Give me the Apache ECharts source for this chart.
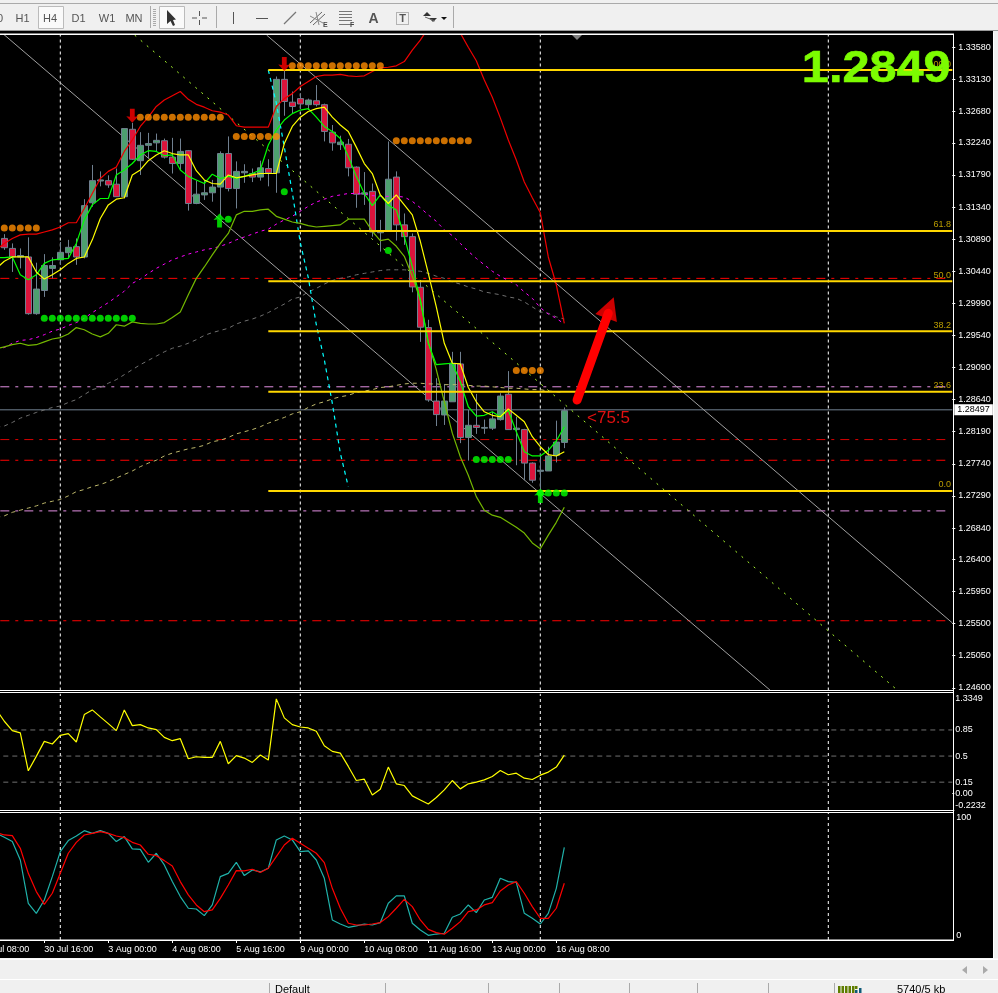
<!DOCTYPE html>
<html><head><meta charset="utf-8"><style>html,body{margin:0;padding:0;background:#000;overflow:hidden}#c{width:998px;height:993px}</style>
<script src="https://cdn.jsdelivr.net/npm/echarts@6/dist/echarts.min.js"></script></head><body><div id="c"></div>
<script>
// candle data, bars 0..70
const open=[1.3090,1.3076,1.3064,1.3064,1.29845,1.3017,1.3048,1.3060,1.3070,1.30785,
1.3064,1.3140,1.31705,1.3171,1.3166,1.31485,1.3243,1.3199,1.32205,1.3224,
1.3227,1.3204,1.3195,1.3213,1.3139,1.3151,1.3154,1.3162,1.3209,1.3160,
1.3182,1.3181,1.3176,1.3188,1.3182,1.3313,1.3281,1.3286,1.32775,1.3283,
1.32775,1.3239,1.32215,1.3222,1.3190,1.3152,1.3156,1.3098,1.3101,1.3176,
1.3109,1.30925,1.30215,1.2965,1.2862,1.28425,1.2861,1.2914,1.2811,1.2828,
1.2824,1.2824,1.2836,1.28715,1.2822,1.2822,1.2775,1.27635,1.2764,1.2786,1.2804];
const close=[1.3077,1.3064,1.3066,1.29845,1.3019,1.3052,1.3052,1.30705,1.30775,1.3064,
1.3136,1.3171,1.3172,1.3165,1.31485,1.3244,1.3201,1.32205,1.3223,1.32275,
1.3204,1.3195,1.3212,1.3139,1.3152,1.3154,1.3162,1.3209,1.3160,1.3184,
1.3184,1.3176,1.3189,1.3182,1.3313,1.3282,1.3275,1.32785,1.3284,1.32775,
1.3240,1.3224,1.3225,1.3189,1.3152,1.3154,1.3099,1.3100,1.3173,1.3109,
1.30925,1.3022,1.29655,1.28635,1.2843,1.2862,1.2915,1.2811,1.2828,1.2825,
1.2825,1.2837,1.2869,1.2822,1.2824,1.2775,1.2751,1.2765,1.2785,1.28045,1.28485];
const high=[1.3096,1.3083,1.3076,1.30915,1.3056,1.3068,1.30635,1.3085,1.3088,1.3090,
1.3145,1.3193,1.3184,1.31785,1.3188,1.3244,1.3252,1.3239,1.3238,1.3237,
1.3230,1.3231,1.3230,1.3214,1.3171,1.3172,1.3172,1.3212,1.3233,1.3198,
1.3194,1.3188,1.3199,1.3201,1.3317,1.3326,1.3296,1.3293,1.3286,1.3305,
1.3279,1.3249,1.3234,1.32295,1.3191,1.3183,1.3167,1.3116,1.3226,1.3184,
1.3125,1.3097,1.3029,1.2976,1.2894,1.2886,1.2931,1.2931,1.28495,1.2872,
1.2836,1.2847,1.2873,1.2904,1.2840,1.2823,1.2776,1.2788,1.2798,1.28345,1.2853];
const low=[1.3074,1.3043,1.3048,1.2983,1.2983,1.3008,1.3034,1.3053,1.3062,1.3053,
1.3062,1.31345,1.3163,1.3161,1.31485,1.3146,1.3200,1.3179,1.3202,1.3212,
1.3202,1.3181,1.3186,1.3129,1.3138,1.3144,1.31415,1.31205,1.3156,1.3132,
1.3168,1.3169,1.3171,1.3163,1.3154,1.3262,1.3265,1.32715,1.3270,1.3275,
1.3226,1.3213,1.3214,1.3177,1.3133,1.3137,1.30925,1.30715,1.3101,1.3087,
1.3081,1.30145,1.2945,1.2861,1.2827,1.28285,1.2861,1.2803,1.27785,1.2816,
1.2816,1.28215,1.28345,1.28215,1.2772,1.2751,1.27475,1.2723,1.2764,1.2776,1.2796];
// overlay lines, bars -1..70
const lineYellow=[1.3048,1.3058,1.3064,1.3064,1.3064,1.3043,1.3033,1.3039,1.3046,1.3055,1.3062,1.3064,1.3088,1.3118,1.3137,1.3145,1.3147,1.3179,1.3186,1.3199,1.3207,1.3213,1.3209,1.3207,1.3207,1.3185,1.3172,1.3167,1.3166,1.3179,1.3175,1.3177,1.3179,1.3181,1.3181,1.3181,1.3223,1.3247,1.3260,1.3268,1.3272,1.3274,
1.3260,1.3249,1.3240,1.3218,1.3195,1.3181,1.3151,1.3139,1.3151,1.3137,1.3123,1.3086,1.3041,1.2994,1.2943,1.2915,1.2914,1.2881,1.2861,1.2847,1.2842,1.2840,1.2851,1.2842,1.2833,1.2812,1.2798,1.2787,1.2785,1.2791];
const lineGreen=[1.3063,1.3063,1.3064,1.3039,1.3032,1.3039,1.3055,1.3060,1.3061,1.3062,1.3083,1.3116,1.3137,1.3146,1.3146,1.3179,1.3186,1.3195,1.3207,1.3213,1.3212,1.3206,1.3207,1.3186,1.3177,1.3172,1.3167,1.3180,1.3174,1.3177,1.3174,1.3177,1.3181,1.3186,1.3221,1.3242,1.3256,1.3265,1.3270,1.3272,1.3260,1.3247,
1.3240,1.3230,1.3205,1.3177,1.3153,1.3136,1.3151,1.3137,1.3130,1.3093,1.3050,1.3004,1.2943,1.2913,1.2914,1.2915,1.2889,1.2854,1.2841,1.2842,1.2847,1.2840,1.2849,1.2819,1.2791,1.2785,1.2785,1.2793,1.2806,1.2826];
const lineRed=[1.3074,1.3083,1.3090,1.3095,1.3096,1.3096,1.3099,1.3102,1.3106,1.3112,1.3112,1.3132,1.3153,1.3174,1.3184,1.3190,1.3212,1.3228,1.3247,1.3260,1.3275,1.3284,1.3290,1.3296,1.3285,1.3278,1.3274,1.3269,1.3267,1.3263,1.3248,1.3246,1.3246,1.3246,1.3246,1.3275,1.3286,1.3293,1.3303,1.3310,1.3317,1.3319,
1.3319,1.3320,1.3318,1.3317,1.3318,1.3324,1.3329,1.3330,1.3332,1.3338,1.3354,1.3368,1.3385,1.3403,1.3417,1.3410,1.3378,1.3358,1.3339,1.3312,1.3288,1.3259,1.3228,1.3200,1.3169,1.3147,1.3126,1.3064,1.3025,1.2971];
const lineOlive=[1.2935,1.2938,1.2941,1.2943,1.2940,1.2941,1.2945,1.2949,1.2951,1.2956,1.2965,1.2962,1.2956,1.2952,1.2957,1.2969,1.2967,1.2973,1.2971,1.2970,1.2970,1.2972,1.2979,1.2987,1.3011,1.3034,1.3050,1.3067,1.3083,1.3097,1.3123,1.3128,1.3128,1.3130,1.3131,1.3121,1.3117,1.3113,1.3111,1.3108,1.3106,1.3107,
1.3108,1.3109,1.3117,1.3117,1.3117,1.3100,1.3087,1.3089,1.3079,1.3065,1.3037,1.3004,1.2945,1.2906,1.2861,1.2817,1.2784,1.2758,1.2728,1.2709,1.2702,1.2699,1.2692,1.2685,1.2677,1.2663,1.2655,1.2674,1.2692,1.2713];
const lineMagenta=[1.2935,1.2937,1.2943,1.2947,1.2948,1.2951,1.2955,1.2960,1.2963,1.2968,1.2972,1.2978,1.2986,1.2993,1.3000,1.3008,1.3016,1.3027,1.3033,1.3041,1.3048,1.3054,1.3060,1.3064,1.3068,1.3071,1.3074,1.3076,1.3079,1.3083,1.3088,1.3092,1.3096,1.3100,1.3103,1.3110,1.3116,1.3121,1.3128,1.3135,1.3141,1.3145,
1.3149,1.3151,1.3153,1.3153,1.3152,1.3150,1.3149,1.3149,1.3149,1.3148,1.3142,1.3133,1.3123,1.3114,1.3102,1.3094,1.3083,1.3072,1.3062,1.3053,1.3044,1.3037,1.3031,1.3025,1.3015,1.3006,1.2993,1.2984,1.2978,1.2970];
const lineGray=[1.2825,1.2827,1.2832,1.2838,1.2842,1.2846,1.28495,1.2853,1.2855,1.2860,1.2864,1.2871,1.2878,1.2881,1.2887,1.2892,1.2899,1.2906,1.2913,1.2919,1.2925,1.2931,1.2936,1.2939,1.2943,1.2948,1.2954,1.2958,1.2961,1.2964,1.2970,1.2974,1.2977,1.2981,1.2986,1.2992,1.2998,1.3005,1.3008,1.3015,1.3020,1.3026,
1.3031,1.3034,1.3036,1.3039,1.3041,1.3043,1.3045,1.3046,1.3046,1.3046,1.3045,1.3044,1.3041,1.3037,1.3034,1.3029,1.3026,1.3022,1.3019,1.3015,1.3013,1.3011,1.3008,1.3006,1.3001,1.2994,1.2987,1.2985,1.2980,1.2977];
const lineKhaki=[1.26985,1.2701,1.2706,1.2709,1.2712,1.2715,1.2719,1.27215,1.2724,1.2729,1.2735,1.2738,1.2742,1.2745,1.2749,1.2754,1.2759,1.2764,1.2770,1.2775,1.2779,1.2785,1.2789,1.2792,1.2795,1.2797,1.2800,1.2805,1.2807,1.2811,1.2816,1.2819,1.2822,1.2826,1.2831,1.2835,1.2839,1.2844,1.2847,
1.2853,1.2858,1.2861,1.2865,1.2868,1.2870,1.2874,1.2876,1.2878,1.2881,1.2882,1.2884,1.2886,1.2887,1.2887,1.2886,1.2886,1.2885,1.2885,1.2885,1.2884,1.2883,1.2883,1.2882,1.2881,1.2880,1.2880,1.2879,1.2878,1.2878,1.2876,1.2875,1.2874];
// cyan line, bars 33..43
const lineCyan=[1.3326,1.3280,1.3218,1.3154,1.3084,1.3035,1.2969,1.2920,1.2859,1.2789,1.2742];
// horizontal levels
const fibLevels=[1.3326,1.31004,1.3030,1.2960,1.2875,1.2736];
const fibNames=['100.0','61.8','50.0','38.2','23.6','0.0'];
const redLevels=[1.3034,1.2808,1.2779,1.2554];
const lavenderLevels=[1.2882,1.2708];
const lastPrice=1.28497;
// channel lines [bar, price, bar, price]
const channelUpper=[32.8,1.3375,118.5,1.2551];
const channelLower=[-1,1.3385,96,1.2454];
const channelMid=[16.3,1.3375,111.6,1.2457];
const bigArrow=[71.6,1.28635,75.5,1.2985];
const bigArrowHead=[75.7,1.2993];
const verticalBars=[7,37,67,103];
// dot rows: [first bar, last bar, price]
const orangeRows=[[0,4,1.31046],[17,27,1.3260],[29,34,1.3233],[36,47,1.3332],[49,58,1.3227],[64,67,1.2905]];
const greenRows=[[5,16,1.2978],[35,35,1.31556],[48,48,1.3073],[28,28,1.3117],[59,63,1.2780],[67,70,1.2733]];
const arrowsDown=[[16,1.3262],[35,1.33346]];
const arrowsUp=[[26.9,1.3115],[67,1.2729]];
// RVI-style oscillator, bars -1..70
const oscYellow=[1.124,0.967,0.841,0.810,0.303,0.496,0.697,0.662,0.778,0.801,0.689,1.056,1.119,1.025,0.935,0.841,1.119,0.908,0.922,0.877,0.855,0.751,0.706,0.733,0.464,0.491,0.482,0.482,0.697,0.397,0.505,0.473,0.415,0.514,0.446,1.267,1.012,0.922,0.890,0.877,0.832,0.639,0.563,0.540,0.361,0.172,0.190,-0.021,0.056,0.352,0.128,0.105,-0.034,-0.088,-0.142,-0.056,0.047,0.172,0.060,0.128,0.150,0.181,0.226,0.307,0.249,0.271,0.204,0.186,0.244,0.285,0.352,0.513];
const oscLevels=[0.85,0.5,0.15];
const oscTicks=[-0.2232,0,0.15,0.5,0.85,1.3349];
// stochastic, bars -1..70
const stochMain=[84.0,80.9,77.5,63.0,28.9,21.0,31.5,49.9,69.6,78.3,81.9,86.1,84.0,86.1,84.0,77.5,81.4,71.7,71.4,61.2,68.3,59.1,46.0,34.2,25.0,24.4,19.2,27.6,49.9,52.5,61.2,50.7,55.2,53.6,56.5,78.8,81.9,78.8,69.6,70.1,63.0,48.6,15.8,12.6,10.0,11.1,12.6,11.8,13.7,28.9,34.7,34.7,13.2,7.9,3.7,4.7,5.3,17.9,20.5,27.6,21.6,31.5,33.6,48.6,46.0,45.4,21.0,17.1,12.6,21.0,40.7,73.0];
const stochSignal=[84.6,82.7,82.2,72.2,52.5,38.1,28.1,36.8,52.5,68.3,76.9,82.7,84.0,85.3,84.0,81.9,80.6,76.9,74.8,67.5,66.4,62.5,58.3,46.0,35.5,27.6,22.3,23.7,32.8,43.3,54.6,54.4,55.7,53.1,56.5,65.7,74.8,80.1,76.2,72.2,68.3,60.9,40.7,25.0,13.2,11.8,11.8,12.6,13.7,18.4,25.0,32.0,26.3,15.8,8.4,5.8,4.5,9.2,14.5,22.3,23.7,27.6,29.4,38.6,43.3,46.0,36.8,26.3,17.1,17.1,25.0,44.7];
// axes
const priceTicks=[1.3358,1.3313,1.3268,1.3224,1.3179,1.3134,1.3089,1.3044,1.2999,1.2954,1.2909,1.2864,1.2819,1.2774,1.2729,1.2684,1.2640,1.2595,1.2550,1.2505,1.2460];
const dateLabels=['29 Jul 08:00','30 Jul 16:00','3 Aug 00:00','4 Aug 08:00','5 Aug 16:00','9 Aug 00:00','10 Aug 08:00','11 Aug 16:00','13 Aug 00:00','16 Aug 08:00'];
const toolbarLabels=['0','H1','H4','D1','W1','MN'];
const statusLabels=['Default','5740/5 kb'];

const SLOTS=122, FIRST=-3;
const cats=Array.from({length:SLOTS},(_,i)=>(i%8===0&&dateLabels[i/8])||'');
const pad=(a,n)=>Array(n).fill(null).concat(a);
const kline=open.map((o,i)=>[o,close[i],low[i],high[i]]);
const FONT='"Liberation Sans",Arial,sans-serif';
const grids=[{left:-23.7,top:34.5,width:976,height:656,outerBoundsMode:'none'},{left:-23.7,top:693.8,width:976,height:116.2,outerBoundsMode:'none'},{left:-23.7,top:813,width:976,height:127,outerBoundsMode:'none'}];
const xAxis=[],yAxis=[];
grids.forEach((g,i)=>{
  xAxis.push({type:'category',gridIndex:i,data:cats,boundaryGap:true,axisLine:{show:false,onZero:false},splitLine:{show:false},
    axisTick:{show:i===2,interval:(idx,v)=>v!=='',alignWithLabel:true,length:3,lineStyle:{color:'#fff'}},
    axisLabel:{show:i===2,interval:(idx,v)=>v!=='',align:'left',margin:5,color:'#fff',fontSize:9,fontFamily:FONT,hideOverlap:false}});
  xAxis.push({type:'value',gridIndex:i,min:FIRST-0.5,max:FIRST-0.5+SLOTS,show:false,axisLine:{onZero:false},splitLine:{show:false}});
});
const axLab={color:'#fff',fontSize:9,fontFamily:FONT};
yAxis.push({type:'value',gridIndex:0,position:'right',min:1.24562,max:1.33759,scale:true,splitLine:{show:false},axisLine:{show:false,onZero:false},
  axisTick:{show:true,length:3,lineStyle:{color:'#fff'},customValues:priceTicks},
  axisLabel:{...axLab,margin:6,customValues:priceTicks,formatter:v=>v.toFixed(5)}});
yAxis.push({type:'value',gridIndex:1,position:'right',min:-0.2232,max:1.3349,splitLine:{show:false},axisLine:{show:false,onZero:false},
  axisTick:{show:true,length:2,lineStyle:{color:'#fff'},customValues:[0,-0.2232]},
  axisLabel:{...axLab,margin:3,customValues:oscTicks,verticalAlignMaxLabel:'top',verticalAlignMinLabel:'bottom',formatter:v=>v===0?'0.00':String(v)}});
yAxis.push({type:'value',gridIndex:2,position:'right',min:0,max:100,splitLine:{show:false},axisLine:{show:false,onZero:false},axisTick:{show:false},
  axisLabel:{...axLab,margin:4,customValues:[0,100],verticalAlignMaxLabel:'top',verticalAlignMinLabel:'bottom'}});

const series=[];
const base={type:'line',showSymbol:false,symbol:'none',silent:true,animation:false,connectNulls:false};
function seg(name,pts,color,opt={},panel=0){
  series.push({...base,name,xAxisIndex:panel*2+1,yAxisIndex:panel,data:pts,z:opt.z||2,
    lineStyle:{color,width:opt.width||1,type:opt.dash||'solid',cap:opt.cap||'butt'},endLabel:opt.endLabel});
}
function ma(name,arr,color,dash,offset=2,panel=0,z=5,width=1.2){
  series.push({...base,name,xAxisIndex:panel*2,yAxisIndex:panel,data:pad(arr,offset),z,lineStyle:{color,width,type:dash||'solid'}});
}
const DD=[9,6,3,6];
redLevels.forEach((v,i)=>seg('red'+i,[[-3.5,v],[118.3,v]],i===1?'#d80000':'#ff0000',{dash:DD}));
lavenderLevels.forEach((v,i)=>seg('lav'+i,[[-3.5,v],[118.3,v]],'#e490e4',{dash:DD}));
seg('last',[[-3.5,lastPrice],[118.5,lastPrice]],'#708090',{endLabel:{show:true,distance:2,formatter:()=>lastPrice.toFixed(5),color:'#000',backgroundColor:'#fff',fontSize:9,fontFamily:FONT,padding:[1,3,1,3]}});
oscLevels.forEach((v,i)=>seg('osc'+i,[[-3.5,v],[118.5,v]],'#707070',{dash:[5,4]},1));
[0,1,2].forEach(p=>{
  const r=[[1.24562,1.33759],[-0.2232,1.3349],[0,100]][p];
  verticalBars.forEach((b,i)=>seg('v'+p+i,[[b,r[0]],[b,r[1]]],'#ffffff',{dash:[3,3]},p));
});
seg('chanU',[[channelUpper[0],channelUpper[1]],[channelUpper[2],channelUpper[3]]],'#a0a0a0');
seg('chanL',[[channelLower[0],channelLower[1]],[channelLower[2],channelLower[3]]],'#a0a0a0');
seg('chanM',[[channelMid[0],channelMid[1]],[channelMid[2],channelMid[3]]],'#adff2f',{dash:[2,6]});
series.push({type:'candlestick',name:'price',xAxisIndex:0,yAxisIndex:0,data:pad(kline,3).map(d=>d||'-'),barWidth:6,z:3,silent:true,animation:false,
  itemStyle:{color:'#4da06f',color0:'#dc143c',borderColor:'#708090',borderColor0:'#708090',borderWidth:1}});
ma('gray',lineGray,'#707070',[4,4],2,0,4,1);
ma('khaki',lineKhaki,'#bdb76b',[4,4],2,0,4,1);
ma('magenta',lineMagenta,'#ff00ff',[3,4],2,0,4,1);
ma('olive',lineOlive,'#74b800');
ma('red',lineRed,'#f00000');
ma('green',lineGreen,'#00ff00');
ma('yellow',lineYellow,'#ffff00');
ma('cyan',lineCyan,'#00ffff',[4,4],36,0,4,1.2);
fibLevels.forEach((v,i)=>seg('fib'+i,[[33,v],[118.5,v]],'#ffd700',{width:2,z:6}));
series.push({type:'scatter',name:'fibNames',xAxisIndex:1,yAxisIndex:0,silent:true,animation:false,z:6,symbolSize:1,itemStyle:{color:'rgba(0,0,0,0)'},
  data:fibLevels.map((v,i)=>({value:[118.4,v],name:fibNames[i]})),
  label:{show:true,position:'left',distance:0,offset:[0,-6],formatter:p=>p.name,color:'#e6c200',fontSize:9,fontFamily:FONT}});
const expand=rows=>rows.flatMap(([a,b,p])=>Array.from({length:b-a+1},(_,i)=>[a+i,p]));
series.push({type:'scatter',name:'orange',xAxisIndex:1,yAxisIndex:0,symbolSize:7,silent:true,animation:false,z:7,itemStyle:{color:'#ff8c00'},data:expand(orangeRows)});
series.push({type:'scatter',name:'lime',xAxisIndex:1,yAxisIndex:0,symbolSize:7,silent:true,animation:false,z:7,itemStyle:{color:'#00ff00'},data:expand(greenRows)});
series.push({type:'scatter',name:'down',xAxisIndex:1,yAxisIndex:0,symbol:'path://M3 0 L7 0 L7 8 L10 7.5 L5 14 L0 7.5 L3 8 Z',symbolSize:[12,14],silent:true,animation:false,z:8,itemStyle:{color:'#ff0000'},data:arrowsDown});
series.push({type:'scatter',name:'up',xAxisIndex:1,yAxisIndex:0,symbol:'path://M5 0 L10 6.5 L7 6 L7 14 L3 14 L3 6 L0 6.5 Z',symbolSize:[12,14],silent:true,animation:false,z:8,itemStyle:{color:'#00ff00'},data:arrowsUp});
seg('bigArrow',[[bigArrow[0],bigArrow[1]],[bigArrow[2],bigArrow[3]]],'#ff0000',{width:9,z:9,cap:'round'});
series.push({type:'scatter',name:'bigArrowHead',xAxisIndex:1,yAxisIndex:0,symbol:'triangle',symbolSize:[23,22],symbolRotate:-20.3,silent:true,animation:false,z:9,itemStyle:{color:'#ff0000'},data:[bigArrowHead]});
ma('osc',oscYellow,'#ffff00',null,2,1);
ma('main',stochMain,'#20b2aa',null,2,2);
ma('signal',stochSignal,'#ff0000',null,2,2,6);

// window furniture
const g=[];
const R=(x,y,w,h,fill,z=100)=>g.push({type:'rect',z,silent:true,shape:{x,y,width:w,height:h},style:{fill}});
const L=(pts,stroke,lw=1,z=102)=>g.push({type:'polyline',z,silent:true,shape:{points:pts},style:{stroke,lineWidth:lw,fill:null}});
const T=(x,y,text,fill,font,align='left',z=103,extra={})=>g.push({type:'text',z,silent:true,x,y,...extra.el,style:{text,fill,font,textAlign:align,textVerticalAlign:'middle',...extra.style}});
const P=(pts,fill,z=102)=>g.push({type:'polygon',z,silent:true,shape:{points:pts},style:{fill}});
// panel frames
R(0,33.5,954,1.5,'#fff');R(953,34,1,907,'#fff');
[690,692,810,812].forEach(y=>R(0,y,954,1,'#fff'));R(0,939.5,954,1.5,'#fff');
// toolbar
R(0,0,998,31,'#f0f0f0',99);R(0,3,998,1,'#aaaaaa');R(0,30,998,1,'#9a9a9a');
const tbX=[0,22.5,50,78.5,107,134];
g.push({type:'rect',z:101,silent:true,shape:{x:38.5,y:6.5,width:25,height:22},style:{fill:'#fafafa',stroke:'#bbbbbb'}});
g.push({type:'rect',z:101,silent:true,shape:{x:159.5,y:6.5,width:25,height:22},style:{fill:'#fafafa',stroke:'#bbbbbb'}});
toolbarLabels.forEach((t,i)=>T(tbX[i],19,t,'#555','11px '+FONT,'center'));
for(let y=9;y<27;y+=2)R(153,y,3,1,'#aaaaaa',101);
[150,216,453].forEach(x=>R(x,6,1,22,'#aaaaaa',101));
P([[167,10],[167,24],[170.5,21],[173,26],[175,25],[173,20],[176,19.5]],'#333');
L([[192,18],[197,18]],'#555');L([[202,18],[207,18]],'#555');L([[199.5,11],[199.5,16]],'#555');L([[199.5,20],[199.5,25]],'#555');
L([[233.5,12],[233.5,24]],'#555');L([[256,18.5],[268,18.5]],'#555');L([[284,24],[296,12]],'#777',1.3);
L([[310,23],[322,12]],'#666');L([[313,25],[325,14]],'#666');L([[310,16],[323,23]],'#888');L([[316,12],[319,25]],'#888');T(323,25,'E','#444','bold 7px '+FONT);
[11,14,17,20,24].forEach(y=>L([[339,y+.5],[352,y+.5]],'#777',1,102));T(350,25,'F','#444','bold 7px '+FONT);
T(373.5,19,'A','#555','bold 14px '+FONT,'center');
g.push({type:'rect',z:102,silent:true,shape:{x:396.5,y:12.5,width:12,height:12},style:{fill:null,stroke:'#777',lineDash:[1,1]}});T(402.5,19,'T','#555','bold 11px '+FONT,'center');
P([[427,12],[431,16],[423,16]],'#333');P([[433,22],[437,18],[429,18]],'#333');L([[425,17],[435,21]],'#666');P([[441,17],[447,17],[444,20]],'#111');
// bottom strips
R(993,0,5,993,'#f0f0f0',99);R(0,958,998,35,'#f0f0f0',99);R(0,958.5,998,1.5,'#ffffff');R(0,979,998,1,'#ffffff');R(993,33,1,926,'#ffffff');
P([[962,970],[967,966],[967,974]],'#aaaaaa');P([[988,970],[983,966],[983,974]],'#aaaaaa');
[269,385,488,559,629,697,768,834].forEach(x=>R(x,983,1,10,'#aaaaaa',101));
T(275,990,statusLabels[0],'#000','11px '+FONT);T(897,990,statusLabels[1],'#000','11px '+FONT);
for(let i=0;i<5;i++)R(838+i*3.5,986,2.5,7,'#5f7d00',101);R(855,986,2.5,3,'#5f7d00',101);R(855,990,2.5,3,'#0f5a78',101);R(859,988,2.5,5,'#0f5a78',101);
// header marks and annotations
P([[572,35],[582,35],[577,40]],'#808080');
T(950.5,70,'1.2849','#7cfc00','bold 45px '+FONT,'right',104,{el:{scaleX:1.08},style:{stroke:'#7cfc00',lineWidth:0.6}});
T(587,418,'<75:5','#e01010','17px '+FONT,'left',104);

const chart=echarts.init(document.getElementById('c'),null,{renderer:'canvas'});
chart.setOption({animation:false,backgroundColor:'#000',grid:grids,xAxis,yAxis,series,graphic:{elements:g}});
</script></body></html>
